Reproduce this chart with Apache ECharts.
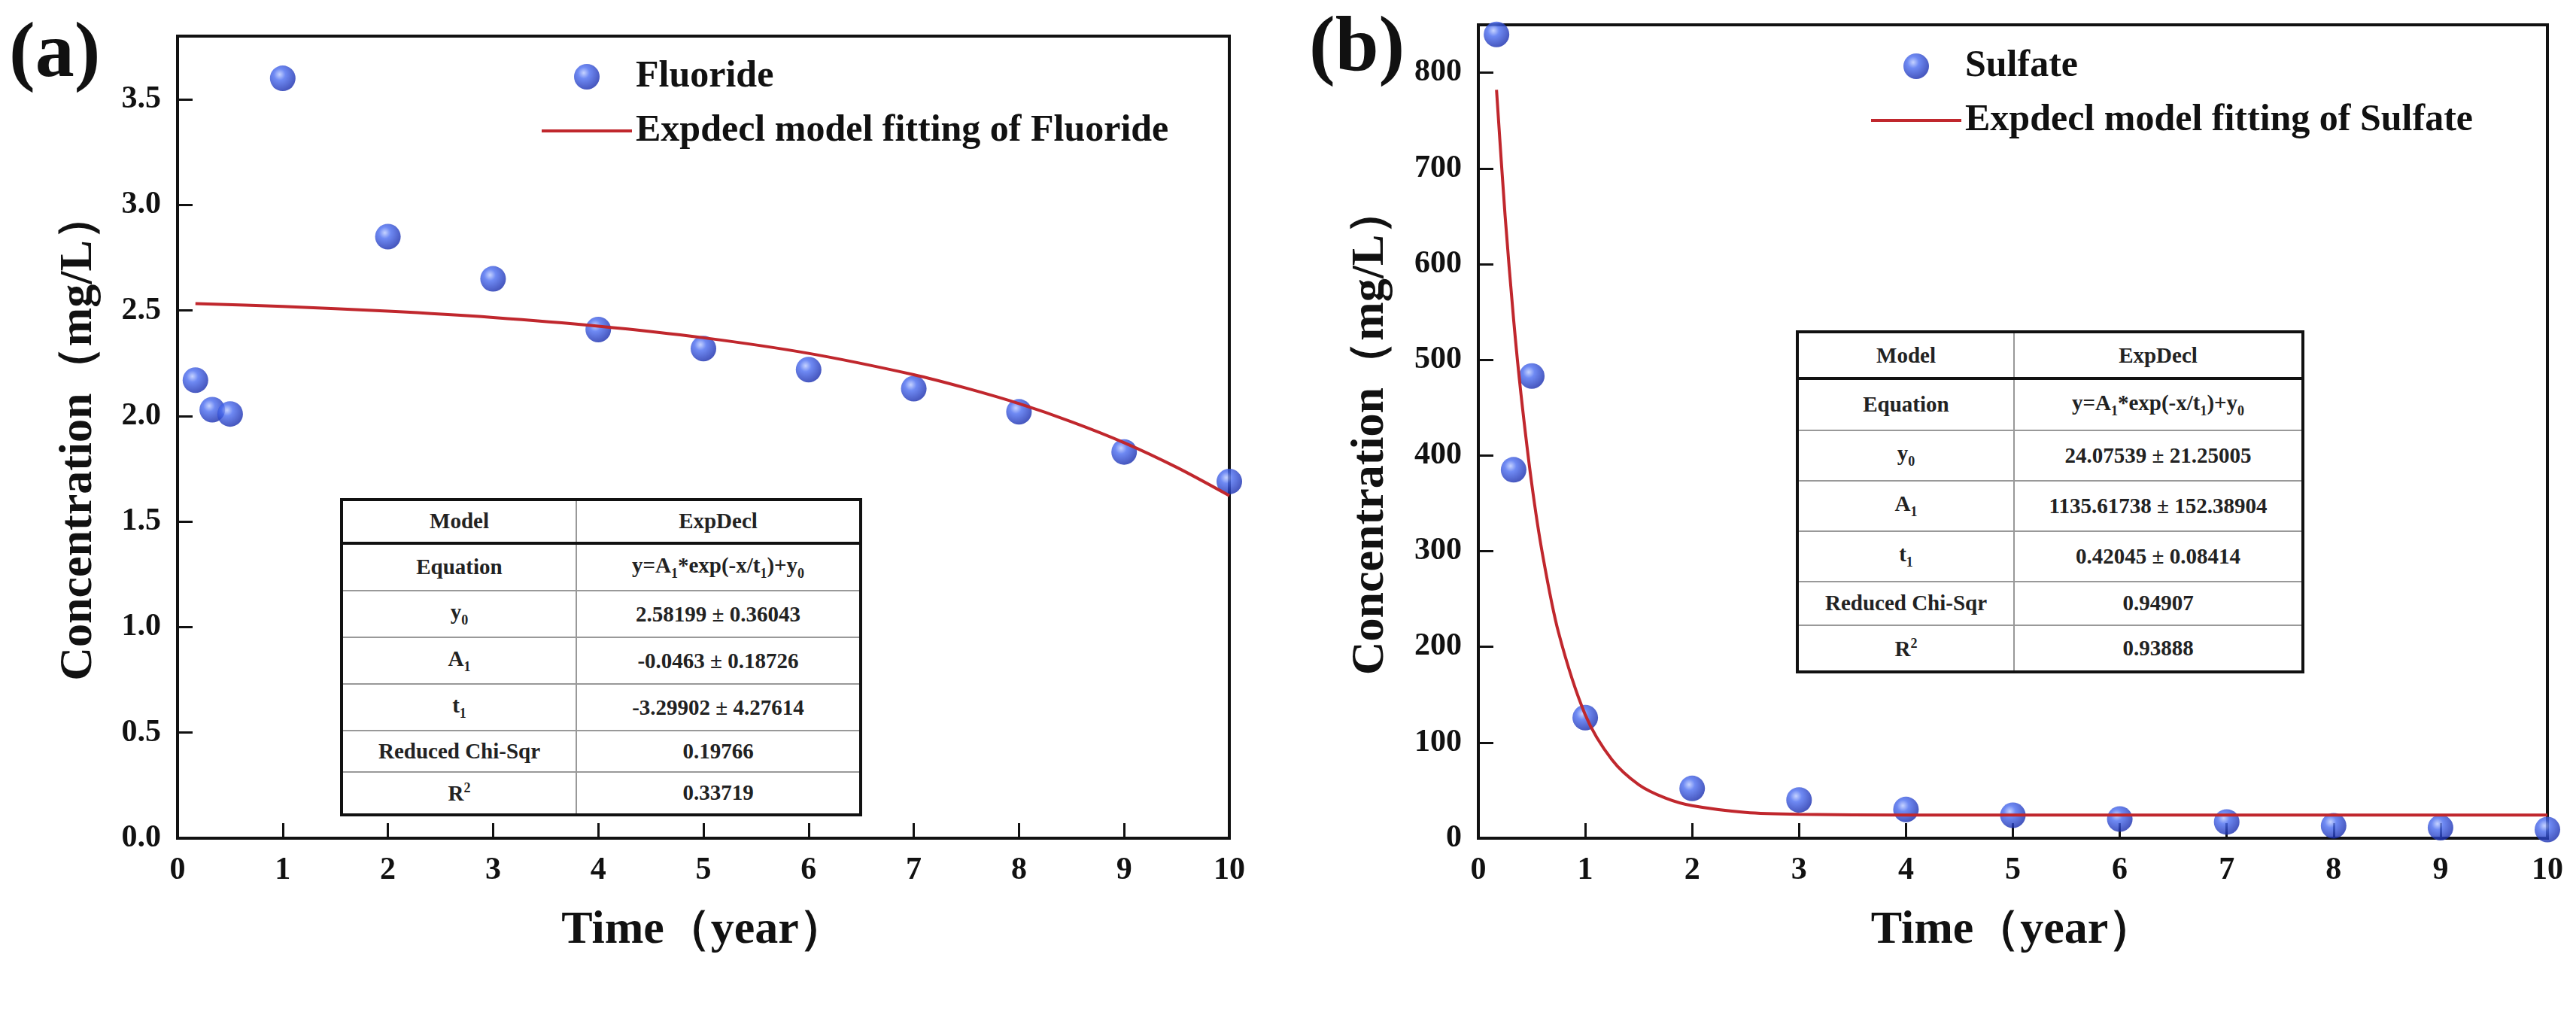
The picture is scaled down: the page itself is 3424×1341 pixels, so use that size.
<!DOCTYPE html>
<html>
<head>
<meta charset="utf-8">
<script src="https://cdn.jsdelivr.net/npm/echarts@6/dist/echarts.min.js"></script>
<style>
  html, body { margin: 0; padding: 0; background: #fff; }
  #chart { width: 3424px; height: 1341px; }
  .tbl { position: absolute; border-collapse: collapse; font-family: "Liberation Serif", serif;
         font-weight: bold; font-size: 29px; color: #222; background: #fff; }
  .tbl td { border-top: 2px solid #999; border-left: 2px solid #999; text-align: center; padding: 0; }
  .tbl tr:first-child td { border-top: 4px solid #111; border-bottom: 4px solid #111; }
  .tbl tr:last-child td { border-bottom: 4px solid #111; }
  .tbl td:first-child { border-left: 4px solid #111; }
  .tbl td:last-child { border-right: 4px solid #111; }
  .tbl sub, .tbl sup { font-size: 18px; }
</style>
</head>
<body>
<div id="chart"></div>
<table class="tbl" style="left:452px;top:662px;width:694px;height:423px">
  <tr><td style="width:309px">Model</td><td>ExpDecl</td></tr>
  <tr><td>Equation</td><td>y=A<sub>1</sub>*exp(-x/t<sub>1</sub>)+y<sub>0</sub></td></tr>
  <tr><td>y<sub>0</sub></td><td>2.58199 ± 0.36043</td></tr>
  <tr><td>A<sub>1</sub></td><td>-0.0463 ± 0.18726</td></tr>
  <tr><td>t<sub>1</sub></td><td>-3.29902 ± 4.27614</td></tr>
  <tr><td>Reduced Chi-Sqr</td><td>0.19766</td></tr>
  <tr><td>R<sup>2</sup></td><td>0.33719</td></tr>
</table>
<table class="tbl" style="left:2387px;top:439px;width:676px;height:456px">
  <tr><td style="width:285px">Model</td><td>ExpDecl</td></tr>
  <tr><td>Equation</td><td>y=A<sub>1</sub>*exp(-x/t<sub>1</sub>)+y<sub>0</sub></td></tr>
  <tr><td>y<sub>0</sub></td><td>24.07539 ± 21.25005</td></tr>
  <tr><td>A<sub>1</sub></td><td>1135.61738 ± 152.38904</td></tr>
  <tr><td>t<sub>1</sub></td><td>0.42045 ± 0.08414</td></tr>
  <tr><td>Reduced Chi-Sqr</td><td>0.94907</td></tr>
  <tr><td>R<sup>2</sup></td><td>0.93888</td></tr>
</table>
<script>
// measured points
const timeYears = [0.17, 0.33, 0.5, 1, 2, 3, 4, 5, 6, 7, 8, 9, 10];
const fluoride = [2.17, 2.03, 2.01, 3.6, 2.85, 2.65, 2.41, 2.32, 2.22, 2.13, 2.02, 1.83, 1.69];
const sulfate = [840, 385, 483, 126, 52, 40, 30, 24, 20, 17, 13, 11, 9];

// fitted curves
const fitFluorideX = [0.17, 1, 2, 3, 4, 5, 6, 7, 7.5, 8, 8.5, 9, 9.5, 10];
const fitFluorideY = [2.533, 2.519, 2.497, 2.467, 2.426, 2.371, 2.297, 2.196, 2.132, 2.059, 1.973, 1.874, 1.757, 1.623];
const fitSulfateX = [0.17, 0.25, 0.33, 0.4, 0.5, 0.6, 0.75, 1, 1.25, 1.5, 1.75, 2, 2.5, 3, 4, 5, 10];
const fitSulfateY = [782, 651, 542, 463, 370, 297, 215, 129, 82, 56, 42, 34, 27, 25, 24.2, 24.1, 24.1];

const font = '"Liberation Serif", serif';
const red = '#c0272d';
const ball = {
  type: 'radial', x: 0.38, y: 0.35, r: 0.65,
  colorStops: [{ offset: 0, color: '#b8c8ff' }, { offset: 0.35, color: '#4a6cf0' }, { offset: 1, color: '#1a2fb0' }]
};
const lineIcon = 'path://M0,0 L120,0 L120,4 L0,4 Z';

function pairs(xs, ys) { return xs.map((x, i) => [x, ys[i]]); }

function xAxis(idx) {
  return {
    type: 'value', gridIndex: idx, min: 0, max: 10, interval: 1,
    name: 'Time（year）', nameLocation: 'middle', nameGap: 92,
    nameTextStyle: { fontFamily: font, fontWeight: 'bold', fontSize: 62, color: '#111' },
    axisLine: { onZero: false, lineStyle: { color: '#111', width: 4 } },
    axisTick: { inside: true, length: 20, lineStyle: { width: 3, color: '#111' } },
    axisLabel: { fontFamily: font, fontWeight: 'bold', fontSize: 42, color: '#111', margin: 22 },
    splitLine: { show: false }
  };
}
function yAxis(idx, max, interval, fmt) {
  return {
    type: 'value', gridIndex: idx, min: 0, max: max, interval: interval,
    name: 'Concentration（mg/L）', nameLocation: 'middle', nameGap: idx === 0 ? 100 : 112,
    nameTextStyle: { fontFamily: font, fontWeight: 'bold', fontSize: 62, color: '#111' },
    axisLine: { lineStyle: { color: '#111', width: 4 } },
    axisTick: { inside: true, length: 20, lineStyle: { width: 3, color: '#111' } },
    axisLabel: { fontFamily: font, fontWeight: 'bold', fontSize: 42, color: '#111', margin: 22, formatter: fmt,
      showMaxLabel: false },
    splitLine: { show: false }
  };
}

const chart = echarts.init(document.getElementById('chart'));
chart.setOption({
  animation: false,
  grid: [
    { left: 236, right: 1790, top: 48, bottom: 227, show: true, borderColor: '#111', borderWidth: 4 },
    { left: 1965, right: 38, top: 33, bottom: 227, show: true, borderColor: '#111', borderWidth: 4 }
  ],
  xAxis: [xAxis(0), xAxis(1)],
  yAxis: [yAxis(0, 3.8, 0.5, v => v.toFixed(1)), yAxis(1, 850, 100, v => String(v))],
  legend: [
    { data: [{ name: 'Fluoride', icon: 'circle' }, { name: 'Expdecl model fitting of Fluoride', icon: lineIcon }],
      orient: 'vertical', left: 715, top: 72, itemGap: 22, itemWidth: 120, itemHeight: 34,
      textStyle: { fontFamily: font, fontWeight: 'bold', fontSize: 50, color: '#111' } },
    { data: [{ name: 'Sulfate', icon: 'circle' }, { name: 'Expdecl model fitting of Sulfate', icon: lineIcon }],
      orient: 'vertical', left: 2482, top: 58, itemGap: 22, itemWidth: 120, itemHeight: 34,
      textStyle: { fontFamily: font, fontWeight: 'bold', fontSize: 50, color: '#111' } }
  ],
  graphic: [
    { type: 'text', left: 12, top: 22, style: { text: '(a)', fontFamily: font, fontWeight: 'bold', fontSize: 104, fill: '#111' } },
    { type: 'text', left: 1740, top: 14, style: { text: '(b)', fontFamily: font, fontWeight: 'bold', fontSize: 104, fill: '#111' } }
  ],
  series: [
    { name: 'Fluoride', type: 'scatter', xAxisIndex: 0, yAxisIndex: 0, data: pairs(timeYears, fluoride),
      symbolSize: 34, itemStyle: { color: ball }, z: 3 },
    { name: 'Expdecl model fitting of Fluoride', type: 'line', xAxisIndex: 0, yAxisIndex: 0,
      data: pairs(fitFluorideX, fitFluorideY), smooth: 0.3, showSymbol: false, symbol: 'none',
      lineStyle: { color: red, width: 4 }, itemStyle: { color: red }, z: 4 },
    { name: 'Sulfate', type: 'scatter', xAxisIndex: 1, yAxisIndex: 1, data: pairs(timeYears, sulfate),
      symbolSize: 34, itemStyle: { color: ball }, z: 3 },
    { name: 'Expdecl model fitting of Sulfate', type: 'line', xAxisIndex: 1, yAxisIndex: 1,
      data: pairs(fitSulfateX, fitSulfateY), smooth: 0.3, showSymbol: false, symbol: 'none',
      lineStyle: { color: red, width: 4 }, itemStyle: { color: red }, z: 4 }
  ]
});
</script>
</body>
</html>
